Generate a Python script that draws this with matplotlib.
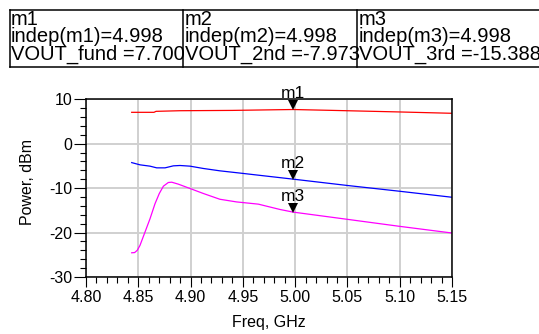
import matplotlib
matplotlib.use("Agg")
import matplotlib.pyplot as plt
from matplotlib.lines import Line2D
from matplotlib.transforms import offset_copy
from matplotlib.ticker import MultipleLocator

plt.rcParams['font.family'] = ['Liberation Sans', 'DejaVu Sans']

# ---- data ----
f_fund = [4.8437, 4.865, 4.867, 4.89, 4.94, 4.9855, 4.998, 5.0365, 5.10, 5.15]
v_fund = [7.07, 7.07, 7.29, 7.43, 7.50, 7.66, 7.70, 7.50, 7.15, 6.85]

f_2nd = [4.8437, 4.8516, 4.8612, 4.8676, 4.8756, 4.8835, 4.8899, 4.8995,
         4.9122, 4.928, 4.947, 4.9648, 4.998, 5.05, 5.10, 5.15]
v_2nd = [-4.25, -4.75, -5.05, -5.43, -5.43, -4.98, -4.90, -5.05,
         -5.57, -6.10, -6.60, -7.08, -7.97, -9.40, -10.70, -12.05]

f_3rd = [4.8437, 4.8465, 4.8490, 4.8516, 4.8564, 4.8612, 4.866, 4.8701, 4.874,
         4.8787, 4.882, 4.8883, 4.8995, 4.9122, 4.928, 4.944, 4.9648, 4.9855,
         4.998, 5.0525, 5.10, 5.15]
v_3rd = [-24.55, -24.5, -24.0, -22.9, -19.9, -16.9, -13.5, -11.2, -9.56,
         -8.73, -8.66, -9.10, -10.08, -11.2, -12.5, -13.1, -13.6, -14.8,
         -15.39, -17.1, -18.6, -20.1]

marker_names = ['m1', 'm2', 'm3']
marker_x = [4.998, 4.998, 4.998]
marker_y = [7.700, -7.973, -15.388]
marker_series = ['VOUT_fund', 'VOUT_2nd', 'VOUT_3rd']
marker_vals = ['7.700', '-7.973', '-15.388']

xticks = [4.80, 4.85, 4.90, 4.95, 5.00, 5.05, 5.10, 5.15]
yticks = [-30, -20, -10, 0, 10]

W, H = 539, 334
fig = plt.figure(figsize=(W / 100, H / 100), dpi=100)
ax = fig.add_axes([86 / W, 1 - 277 / H, 366 / W, 177.7 / H])

ax.plot(f_fund, v_fund, color='#ff0000', lw=0.9)
ax.plot(f_2nd, v_2nd, color='#0000ff', lw=0.9)
ax.plot(f_3rd, v_3rd, color='#ff00ff', lw=0.9)

ax.set_xlim(4.80, 5.15)
ax.set_ylim(-30, 10)
ax.set_xticks(xticks)
ax.set_xticklabels([f"{t:.2f}" for t in xticks])
ax.set_yticks(yticks)
ax.set_yticklabels([str(t) for t in yticks])
ax.xaxis.set_minor_locator(MultipleLocator(0.01))
ax.yaxis.set_minor_locator(MultipleLocator(2))
ax.grid(True, which='major', color='#d0d0d0', lw=1.4)
ax.set_axisbelow(True)
for s in ax.spines.values():
    s.set_linewidth(1.1)
    s.set_color('black')
ax.tick_params(axis='x', which='major', direction='out', length=7.2, width=0.8,
               labelsize=11.5, pad=2)
ax.tick_params(axis='x', which='minor', direction='out', length=4.3, width=0.8)
ax.tick_params(axis='y', which='major', direction='out', length=8.6, width=0.8,
               labelsize=11.5, pad=1)
ax.tick_params(axis='y', which='minor', direction='out', length=4.3, width=0.8)

ax.set_xlabel('Freq, GHz', fontsize=11.5)
ax.set_ylabel('Power, dBm', fontsize=11.5)
ax.xaxis.set_label_coords(0.5, -0.215)
ax.yaxis.set_label_coords(-0.14, 0.535)

tri_tr = offset_copy(ax.transData, fig=fig, x=0, y=3.0, units='points')
for name, mx, my in zip(marker_names, marker_x, marker_y):
    ax.plot([mx], [my], marker='v', ms=6.5, color='black', mew=0,
            transform=tri_tr, clip_on=False)
    ax.annotate(name, (mx, my), xytext=(0, 8.0), textcoords='offset points',
                ha='center', va='baseline', fontsize=12.5)

# ---- marker readout table ----
def fx(px):
    return px / W

def fy(py):
    return 1 - py / H

lw_box = 1.1
fig.add_artist(Line2D([fx(9.5), fx(545)], [fy(9.5), fy(9.5)], color='black', lw=lw_box))
fig.add_artist(Line2D([fx(9.5), fx(545)], [fy(66.5), fy(66.5)], color='black', lw=lw_box))
cell_left = [11, 185, 359]
for i, (name, series, val) in enumerate(zip(marker_names, marker_series, marker_vals)):
    x0 = cell_left[i]
    fig.text(fx(x0), fy(25), name, fontsize=14.5, va='baseline', ha='left')
    fig.text(fx(x0), fy(42.5), f"indep({name})={marker_x[i]:.3f}", fontsize=14.5,
             va='baseline', ha='left')
    fig.text(fx(x0), fy(60), f"{series} ={val}", fontsize=14.5,
             va='baseline', ha='left')
for xd in [9.5, 183, 357]:
    ln = Line2D([fx(xd), fx(xd)], [fy(9.5), fy(66.5)], color='black', lw=lw_box)
    ln.set_zorder(5)
    fig.add_artist(ln)

fig.savefig('out.png', dpi=100)
